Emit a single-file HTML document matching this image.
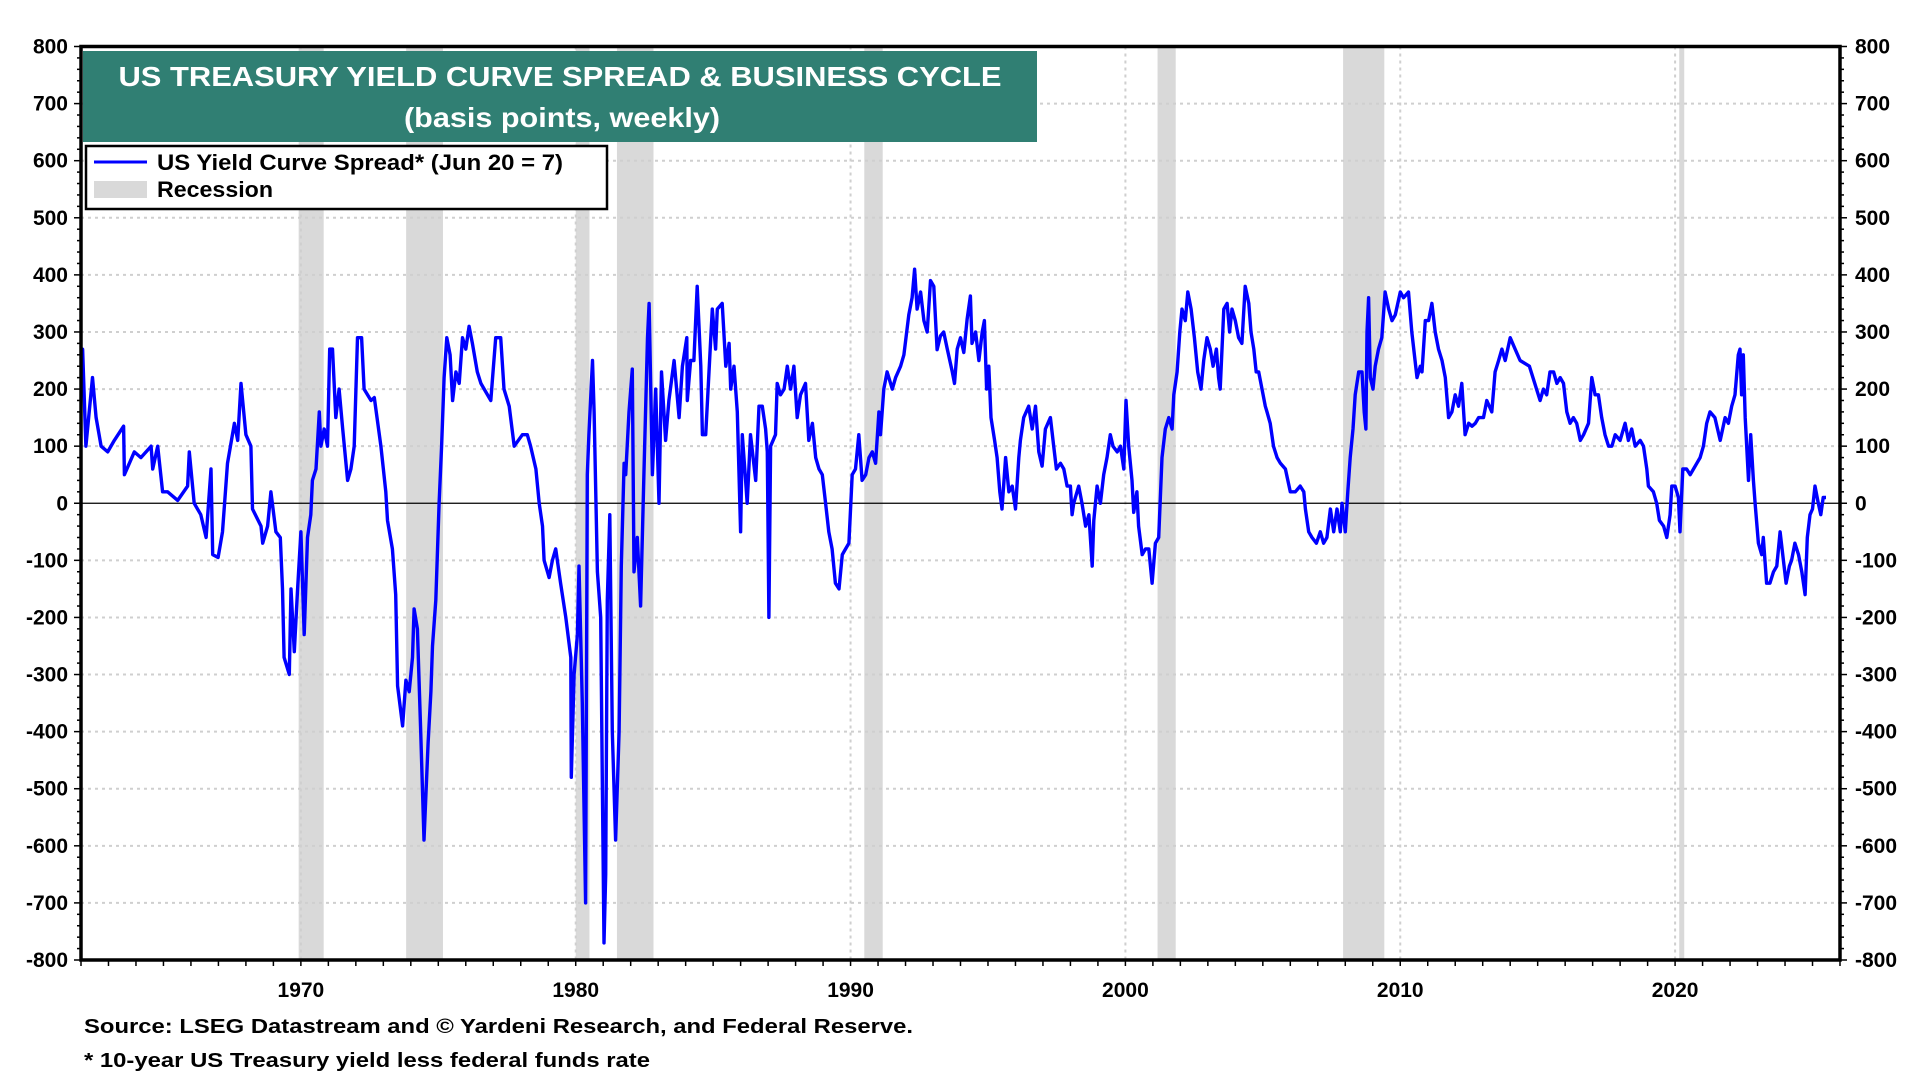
<!DOCTYPE html>
<html><head><meta charset="utf-8"><style>
html,body{margin:0;padding:0;background:#fff;}
svg{display:block;font-family:"Liberation Sans",Arial,sans-serif;font-weight:bold;}
</style></head><body>
<svg id="chart" width="1920" height="1080" viewBox="0 0 1920 1080" xmlns="http://www.w3.org/2000/svg">
<g id="rec"></g>
<g id="grid"></g>
<g id="series"></g>
<g id="axes"></g>
<g>
<rect x="83" y="51" width="954" height="91" fill="#307f73"/>
<text x="560" y="86" fill="#fff" font-size="28" text-anchor="middle" textLength="883" lengthAdjust="spacingAndGlyphs">US TREASURY YIELD CURVE SPREAD &amp; BUSINESS CYCLE</text>
<text x="562" y="127" fill="#fff" font-size="28" text-anchor="middle" textLength="316" lengthAdjust="spacingAndGlyphs">(basis points, weekly)</text>
</g>
<g>
<rect x="86" y="146" width="521" height="63" fill="#fff" stroke="#000" stroke-width="2.5"/>
<line x1="94" y1="162" x2="147" y2="162" stroke="#0000ff" stroke-width="3"/>
<text x="157" y="170" font-size="22" textLength="406" lengthAdjust="spacingAndGlyphs">US Yield Curve Spread* (Jun 20 = 7)</text>
<rect x="94" y="181" width="53" height="17" fill="#d9d9d9"/>
<text x="157" y="197" font-size="22" textLength="116" lengthAdjust="spacingAndGlyphs">Recession</text>
</g>
<text x="84" y="1033" font-size="20" textLength="829" lengthAdjust="spacingAndGlyphs">Source: LSEG Datastream and © Yardeni Research, and Federal Reserve.</text>
<text x="84" y="1067" font-size="20" textLength="566" lengthAdjust="spacingAndGlyphs">* 10-year US Treasury yield less federal funds rate</text>
</svg>
<script>
const years = [1962.0,1962.06,1962.18,1962.42,1962.55,1962.73,1962.97,1963.21,1963.55,1963.58,1963.94,1964.18,1964.55,1964.61,1964.79,1964.97,1965.15,1965.52,1965.88,1965.94,1966.12,1966.36,1966.55,1966.73,1966.79,1966.99,1967.15,1967.33,1967.58,1967.70,1967.82,1968.0,1968.18,1968.24,1968.55,1968.61,1968.79,1968.91,1969.09,1969.25,1969.33,1969.39,1969.58,1969.64,1969.76,1969.88,1970.0,1970.12,1970.24,1970.36,1970.42,1970.55,1970.67,1970.73,1970.85,1970.97,1971.05,1971.15,1971.27,1971.39,1971.52,1971.70,1971.82,1971.94,1972.06,1972.21,1972.30,1972.55,1972.67,1972.91,1973.09,1973.15,1973.33,1973.45,1973.52,1973.70,1973.82,1973.94,1974.06,1974.12,1974.24,1974.36,1974.48,1974.63,1974.73,1974.79,1974.91,1975.03,1975.12,1975.21,1975.31,1975.43,1975.52,1975.64,1975.76,1975.88,1976.0,1976.12,1976.24,1976.42,1976.55,1976.67,1976.91,1977.09,1977.27,1977.39,1977.58,1977.76,1978.06,1978.24,1978.36,1978.55,1978.67,1978.79,1978.85,1979.03,1979.15,1979.27,1979.45,1979.64,1979.82,1979.84,1979.94,1980.06,1980.12,1980.24,1980.36,1980.42,1980.48,1980.61,1980.67,1980.79,1980.91,1980.97,1981.03,1981.09,1981.15,1981.24,1981.33,1981.45,1981.58,1981.66,1981.76,1981.82,1981.94,1982.06,1982.12,1982.24,1982.36,1982.48,1982.61,1982.67,1982.79,1982.91,1983.03,1983.12,1983.27,1983.39,1983.58,1983.76,1983.88,1984.04,1984.06,1984.18,1984.30,1984.42,1984.55,1984.61,1984.73,1984.85,1984.97,1985.09,1985.15,1985.33,1985.46,1985.58,1985.64,1985.76,1985.88,1986.0,1986.06,1986.18,1986.24,1986.36,1986.55,1986.67,1986.79,1986.91,1986.97,1987.03,1987.09,1987.27,1987.33,1987.45,1987.58,1987.70,1987.82,1987.94,1988.06,1988.18,1988.36,1988.48,1988.61,1988.73,1988.85,1988.97,1989.09,1989.21,1989.33,1989.45,1989.58,1989.70,1989.82,1989.94,1990.06,1990.18,1990.30,1990.42,1990.55,1990.67,1990.79,1990.91,1991.03,1991.09,1991.21,1991.33,1991.52,1991.64,1991.82,1991.94,1992.12,1992.24,1992.33,1992.42,1992.55,1992.67,1992.79,1992.91,1993.03,1993.15,1993.27,1993.39,1993.52,1993.70,1993.78,1993.88,1994.0,1994.12,1994.24,1994.36,1994.42,1994.55,1994.67,1994.79,1994.87,1994.95,1995.03,1995.11,1995.24,1995.33,1995.43,1995.51,1995.64,1995.76,1995.88,1996.0,1996.12,1996.18,1996.30,1996.48,1996.61,1996.73,1996.85,1996.97,1997.09,1997.27,1997.39,1997.49,1997.64,1997.76,1997.88,1998.0,1998.06,1998.12,1998.30,1998.42,1998.55,1998.67,1998.79,1998.85,1998.97,1999.09,1999.21,1999.33,1999.45,1999.55,1999.70,1999.82,1999.94,2000.02,2000.12,2000.24,2000.30,2000.42,2000.48,2000.61,2000.73,2000.85,2000.97,2001.09,2001.21,2001.33,2001.45,2001.58,2001.70,2001.76,2001.88,2001.98,2002.06,2002.18,2002.27,2002.39,2002.51,2002.63,2002.75,2002.85,2002.97,2003.09,2003.19,2003.31,2003.39,2003.45,2003.58,2003.70,2003.79,2003.88,2004.0,2004.12,2004.24,2004.36,2004.49,2004.57,2004.67,2004.76,2004.85,2004.97,2005.09,2005.15,2005.27,2005.39,2005.52,2005.64,2005.82,2006.0,2006.18,2006.36,2006.49,2006.55,2006.67,2006.79,2006.95,2007.09,2007.21,2007.33,2007.46,2007.58,2007.70,2007.82,2007.88,2008.0,2008.09,2008.18,2008.28,2008.36,2008.49,2008.61,2008.69,2008.75,2008.79,2008.85,2008.91,2009.01,2009.09,2009.21,2009.33,2009.45,2009.58,2009.70,2009.82,2010.0,2010.12,2010.30,2010.42,2010.61,2010.73,2010.79,2010.91,2011.03,2011.15,2011.27,2011.39,2011.52,2011.64,2011.76,2011.88,2012.0,2012.12,2012.24,2012.36,2012.49,2012.61,2012.73,2012.85,2013.03,2013.15,2013.33,2013.45,2013.58,2013.70,2013.82,2014.0,2014.18,2014.36,2014.7,2015.09,2015.21,2015.33,2015.45,2015.58,2015.70,2015.82,2015.94,2016.06,2016.18,2016.30,2016.42,2016.55,2016.67,2016.85,2016.97,2017.09,2017.21,2017.33,2017.45,2017.58,2017.70,2017.82,2018.0,2018.18,2018.30,2018.42,2018.55,2018.73,2018.85,2018.97,2019.03,2019.21,2019.33,2019.43,2019.58,2019.70,2019.82,2019.88,2020.0,2020.12,2020.18,2020.28,2020.42,2020.55,2020.67,2020.79,2020.91,2021.03,2021.15,2021.27,2021.45,2021.64,2021.82,2021.94,2022.06,2022.18,2022.30,2022.36,2022.42,2022.48,2022.55,2022.67,2022.75,2022.85,2022.91,2023.03,2023.15,2023.21,2023.33,2023.45,2023.58,2023.70,2023.82,2023.94,2024.04,2024.16,2024.24,2024.36,2024.49,2024.61,2024.73,2024.81,2024.91,2025.0,2025.09,2025.21,2025.30,2025.39,2025.49];
const spread = [260,270,100,220,150,100,90,110,135,50,90,80,100,60,100,20,20,5,30,90,0,-20,-60,60,-90,-95,-50,70,140,110,210,120,100,-10,-40,-70,-40,20,-50,-60,-150,-270,-300,-150,-260,-150,-50,-230,-60,-20,40,60,160,100,130,100,270,270,150,200,130,40,60,100,290,290,200,180,185,100,20,-30,-80,-160,-320,-390,-310,-330,-270,-185,-220,-400,-590,-420,-330,-250,-170,0,100,220,290,260,180,230,210,290,270,310,280,230,210,200,180,290,290,200,170,100,120,120,100,60,0,-40,-100,-130,-100,-80,-140,-200,-270,-480,-300,-230,-110,-350,-700,50,120,250,160,-120,-200,-500,-770,-650,-170,-20,-400,-590,-400,-110,70,50,160,235,-120,-60,-180,50,290,350,50,200,0,230,110,180,250,150,240,290,180,250,250,380,240,120,120,230,340,270,340,350,240,280,200,240,160,-50,120,40,0,120,40,170,170,130,90,-200,100,120,210,190,200,240,200,240,150,190,210,110,140,80,60,50,0,-50,-80,-140,-150,-90,-80,-70,50,60,120,40,50,80,90,70,160,120,200,230,200,220,240,260,330,360,410,340,370,320,300,390,380,269,293,300,270,230,210,270,290,264,322,363,280,300,250,300,320,200,240,150,110,80,20,-10,80,20,30,-10,80,110,150,170,130,170,90,65,130,150,100,60,70,60,30,30,-20,0,30,0,-40,-20,-110,-30,30,0,50,80,120,100,90,100,60,180,100,40,-16,20,-40,-90,-80,-80,-140,-70,-60,80,130,150,130,190,230,300,340,320,370,340,290,230,200,250,290,270,240,270,220,200,340,350,300,340,320,290,280,380,350,300,270,230,230,200,170,160,140,100,80,70,60,20,20,30,20,-10,-50,-60,-70,-50,-70,-60,-10,-50,-10,-50,0,-50,20,80,130,190,230,230,160,130,300,360,220,200,240,270,290,370,340,320,330,370,360,370,300,220,240,230,320,320,350,300,270,250,220,150,160,190,170,210,120,140,135,140,150,150,180,160,230,250,270,250,290,270,250,240,180,200,190,230,230,210,220,210,160,140,150,140,110,120,140,220,190,190,150,120,100,100,120,110,140,110,130,100,110,100,60,30,20,0,-30,-40,-60,-20,30,30,10,-50,60,60,50,60,70,80,100,140,160,150,110,150,140,170,190,260,270,190,260,150,40,120,40,0,-70,-90,-60,-140,-140,-120,-110,-50,-100,-140,-110,-100,-70,-90,-120,-160,-60,-20,-10,30,0,-20,10,10];
const recStart = [1969.92,1973.83,1980.0,1981.5,1990.5,2001.17,2007.92,2020.15];
const recEnd = [1970.83,1975.17,1980.5,1982.83,1991.17,2001.83,2009.42,2020.3];
const yTicks = [800,700,600,500,400,300,200,100,0,-100,-200,-300,-400,-500,-600,-700,-800];
const xTickLabels = [1970,1980,1990,2000,2010,2020];

const NS='http://www.w3.org/2000/svg';
const L=81,R=1840,T=46.5,B=960,X0=1962,X1=2026,Y0=-800,Y1=800;
function sx(y){return L+(y-X0)/(X1-X0)*(R-L);}
function sy(v){return B-(v-Y0)/(Y1-Y0)*(B-T);}
function mk(tag,attrs,parent){const e=document.createElementNS(NS,tag);for(const k in attrs)e.setAttribute(k,attrs[k]);parent.appendChild(e);return e;}
const gRec=document.getElementById('rec'),gGrid=document.getElementById('grid'),gSer=document.getElementById('series'),gAx=document.getElementById('axes');

recStart.forEach((s,i)=>{
  const r=mk('rect',{x:sx(s),y:T,width:Math.max(sx(recEnd[i])-sx(s),5),height:B-T,fill:'#d9d9d9'},gRec);
  
  
});
yTicks.forEach(v=>{
  if(v!==0&&v!==800&&v!==-800){
    const g=mk('line',{x1:L,x2:R,y1:sy(v),y2:sy(v),stroke:'#cfcfcf','stroke-width':2,'stroke-dasharray':'3,4'},gGrid);
    
    
  }
});
xTickLabels.forEach(yr=>{
  const g=mk('line',{x1:sx(yr),x2:sx(yr),y1:T,y2:B,stroke:'#cfcfcf','stroke-width':2,'stroke-dasharray':'3,4'},gGrid);
  
  
});
const zl=mk('line',{x1:L,x2:R,y1:sy(0),y2:sy(0),stroke:'#000','stroke-width':1.3},gGrid);



let d='';
years.forEach((y,i)=>{d+=(i?'L':'M')+sx(y).toFixed(1)+','+sy(spread[i]).toFixed(1);});
const p=mk('path',{d:d,fill:'none',stroke:'#0000ff','stroke-width':3.4,'stroke-linejoin':'round'},gSer);



const frame=mk('rect',{x:L,y:T,width:R-L,height:B-T,fill:'none',stroke:'#000','stroke-width':3.5},gAx);


for(let v=-800;v<=800;v+=20){
  const major=v%100===0;const len=major?7:4;
  mk('line',{x1:L-len,x2:L,y1:sy(v),y2:sy(v),stroke:'#000','stroke-width':1.5},gAx);
  mk('line',{x1:R,x2:R+len,y1:sy(v),y2:sy(v),stroke:'#000','stroke-width':1.5},gAx);
}
yTicks.forEach(v=>{
  const t=mk('text',{x:L-13,y:sy(v)+7,'font-size':21,'text-anchor':'end'},gAx);
  t.textContent=v;
  
  
  const t2=mk('text',{x:R+15,y:sy(v)+7,'font-size':21},gAx);
  t2.textContent=v;
  
  
});
for(let y=X0;y<=X1;y++){
  mk('line',{x1:sx(y),x2:sx(y),y1:B,y2:B+6,stroke:'#000','stroke-width':1.5},gAx);
}
xTickLabels.forEach(yr=>{
  const t=mk('text',{x:sx(yr),y:997,'font-size':21,'text-anchor':'middle'},gAx);
  t.textContent=yr;
  
  
});
</script>
</body></html>
